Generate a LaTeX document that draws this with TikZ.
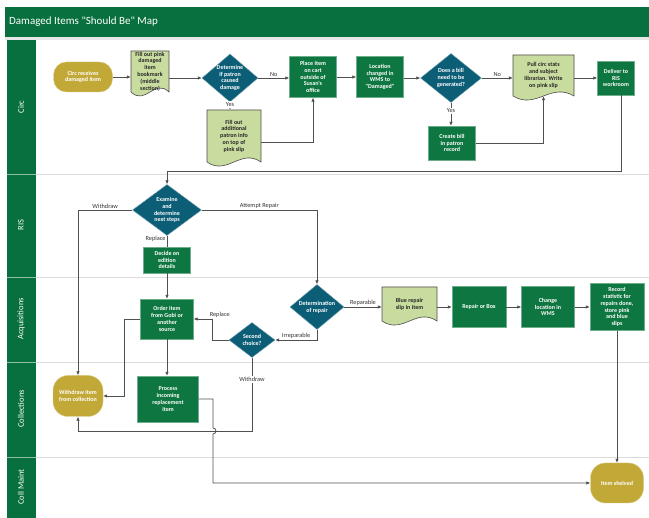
\documentclass[tikz,border=0pt]{standalone}
\usepackage{fontspec}
\setmainfont{Carlito}
\newfontfamily\cfont{Carlito}
\usetikzlibrary{arrows.meta,shapes.geometric,calc}
\definecolor{titlegreen}{RGB}{8,112,62}
\definecolor{boxgreen}{RGB}{14,118,64}
\definecolor{diateal}{RGB}{12,94,118}
\definecolor{goldfill}{RGB}{194,168,55}
\definecolor{docgreen}{RGB}{201,220,160}
\definecolor{lanegray}{RGB}{220,220,220}
\definecolor{linegray}{RGB}{80,80,80}
\newcommand\myNodeFont{\cfont\fontsize{6}{6.8}\selectfont\bfseries}
\newcommand\myLblFont{\cfont\fontsize{6.3}{7}\selectfont}
\newcommand\myLaneFont{\cfont\fontsize{8.5}{10}\selectfont}
\newcommand\docshape[4]{%
  \pgfmathsetmacro\dxa{#1+0.62*(#3-#1)}%
  \pgfmathsetmacro\dxb{#1+0.38*(#3-#1)}%
  \filldraw[docsty] (#1,#2) -- (#3,#2) -- (#3,#4) .. controls (\dxa,#4-14) and (\dxb,#4+14) .. (#1,#4) -- cycle;}
\begin{document}
\begin{tikzpicture}[x=1pt,y=-1pt,
  rbox/.style={rectangle, fill=boxgreen, draw=boxgreen!60!white, line width=0.4pt, text=white, font=\myNodeFont, align=center, inner sep=0pt},
  gbox/.style={rectangle, rounded corners=13pt, fill=goldfill, draw=goldfill!60!white, line width=0.4pt, text=white, font=\myNodeFont, align=center, inner sep=0pt},
  dia/.style={diamond, fill=diateal, draw=diateal!60!white, line width=0.4pt, inner sep=0pt},
  diatxt/.style={text=white, font=\myNodeFont, align=center, inner sep=0pt},
  dtxt/.style={text=black!85, font=\myNodeFont, align=center, inner sep=0pt},
  docsty/.style={fill=docgreen, draw=black!70, line width=0.6pt},
  lbl/.style={font=\myLblFont, text=black!80, inner sep=1pt},
  arr/.style={draw=linegray, line width=0.8pt, -{Latex[length=4pt,width=3.6pt]}},
  ln/.style={draw=linegray, line width=0.8pt},
  lanelbl/.style={text=white, font=\myLaneFont, rotate=90}]
\useasboundingbox (0,0) rectangle (649,518);
\fill[white] (0,0) rectangle (649,518);
% title
\fill[titlegreen] (5,7) rectangle (649,37);
\node[anchor=west, text=white, font=\cfont\fontsize{11}{13}\selectfont, inner sep=0pt] (title) at (9,22) {Damaged Items "Should Be" Map};
\fill[lanegray!70] (5,37) rectangle (649,40);
% lanes
\fill[titlegreen] (7,40) rectangle (36,518);
\foreach \yy in {174,277,362,457}{
  \draw[white!55!titlegreen, line width=0.6pt] (7,\yy) -- (36,\yy);
  \draw[lanegray, line width=0.7pt] (36,\yy) -- (649,\yy);
}
\node[lanelbl] (lcirc) at (21,107) {Circ};
\node[lanelbl] (lris) at (21,225) {RIS};
\node[lanelbl] (lacq) at (21,319) {Acquisitions};
\node[lanelbl] (lcoll) at (21,409) {Collections};
\node[lanelbl] (lmaint) at (21,487) {Coll Maint};

% Circ lane
\node[gbox, minimum width=59pt, minimum height=30pt] (start) at (83,77) {Circ receives\\damaged item};
\docshape{131}{51}{169}{92}
\node[dtxt, minimum width=38pt, minimum height=41pt] (fillpink) at (150,71.5) {Fill out pink\\damaged\\item\\bookmark\\(middle\\section)};
\node[dia, minimum width=56pt, minimum height=48pt] (detpat) at (230,78) {};
\node[diatxt] (detpatt) at (detpat) {Determine\\if patron\\caused\\damage};
\docshape{207}{110}{261}{162}
\node[dtxt, minimum width=54pt, minimum height=52pt] (filladd) at (234,136) {Fill out\\additional\\patron info\\on top of\\pink slip};
\node[rbox, minimum width=47pt, minimum height=41pt] (place) at (313,77) {Place item\\on cart\\outside of\\Susan's\\office};
\node[rbox, minimum width=47pt, minimum height=41pt] (loc) at (380,77) {Location\\changed in\\WMS to\\"Damaged"};
\node[dia, minimum width=61pt, minimum height=49pt] (bill) at (451,78) {};
\node[diatxt] (billt) at (bill) {Does a bill\\need to be\\generated?};
\node[rbox, minimum width=47pt, minimum height=34pt] (create) at (452,143) {Create bill\\in patron\\record};
\docshape{513}{55}{574}{96}
\node[dtxt, minimum width=61pt, minimum height=41pt] (pull) at (543.5,75.5) {Pull circ stats\\and subject\\librarian. Write\\on pink slip};
\node[rbox, minimum width=37pt, minimum height=34pt] (deliver) at (616,78) {Deliver to\\RIS\\workroom};

% RIS lane
\node[dia, minimum width=69pt, minimum height=51pt] (examine) at (167,210) {};
\node[diatxt] (examinet) at (examine) {Examine\\and\\determine\\next steps};
\node[rbox, minimum width=47pt, minimum height=26pt] (decide) at (167,260) {Decide on\\edition\\details};

% Acquisitions lane
\node[rbox, minimum width=53pt, minimum height=40pt] (order) at (167,319) {Order item\\from Gobi or\\another\\source};
\node[dia, minimum width=54pt, minimum height=45pt] (detrep) at (317,307) {};
\node[diatxt] (detrept) at (detrep) {Determination\\of repair};
\docshape{382}{287}{437}{321}
\node[dtxt, minimum width=55pt, minimum height=34pt] (blue) at (409.5,304) {Blue repair\\slip in item};
\node[rbox, minimum width=54pt, minimum height=41pt] (repair) at (479,307) {Repair or Box};
\node[rbox, minimum width=53pt, minimum height=41pt] (change) at (548,307) {Change\\location in\\WMS};
\node[rbox, minimum width=54pt, minimum height=47pt] (record) at (617,307) {Record\\statistic for\\repairs done,\\store pink\\and blue\\slips};
\node[dia, minimum width=46pt, minimum height=35pt] (second) at (252,340) {};
\node[diatxt] (secondt) at (second) {Second\\choice?};

% Collections lane
\node[gbox, rounded corners=15pt, minimum width=50pt, minimum height=41pt] (withdraw) at (78,396) {Withdraw item\\from collection};
\node[rbox, minimum width=61pt, minimum height=46pt] (process) at (168,399) {Process\\incoming\\replacement\\item};

% Coll Maint lane
\node[gbox, rounded corners=15pt, minimum width=53pt, minimum height=40pt] (shelved) at (617,483) {Item shelved};

% connectors
\draw[arr] (start.east) -- (start.east -| fillpink.west);
\draw[arr] (detpat.west -| fillpink.east) -- (detpat.west);
\draw[arr] (detpat.south) -- node[lbl, fill=white, pos=0.3] (lyes1) {Yes} (detpat.south |- filladd.north);
\draw[arr] (detpat.east) -- node[lbl, above] (lno1) {No} (detpat.east -| place.west);
\draw[arr] (place.east) -- (place.east -| loc.west);
\draw[arr] (bill.west -| loc.east) -- (bill.west);
\draw[arr] (bill.south) -- node[lbl, fill=white, pos=0.35] (lyes2) {Yes} (bill.south |- create.north);
\draw[arr] (bill.east) -- node[lbl, above] (lno2) {No} (bill.east -| pull.west);
\draw[arr] (deliver.west -| pull.east) -- (deliver.west);
\draw[arr] ([yshift=-6pt]filladd.east) -| (place.south);
\draw[arr] (create.east) -| (pull.south);
\coordinate (ybr) at (0,171);
\coordinate (c1) at (examine.north |- ybr);
\draw[arr] ([xshift=5pt]deliver.south) |- (c1) -- (examine.north);
\draw[arr] (examine.west) -| node[lbl, above, pos=0.25] (lwd1) {Withdraw} (withdraw.north);
\draw[arr] (examine.east) -| node[lbl, above, pos=0.25] (lrep) {Attempt Repair} (detrep.north);
\draw[ln] (examine.south) -- node[lbl, left, pos=0.3] (lrpl1) {Replace} (decide.north);
\draw[arr] (decide.south) -- (order.north);
\draw[arr] (order.west) -- ++(-16,0) |- (withdraw.east);
\draw[arr] (detrep.east) -- node[lbl, above] (lreparable) {Reparable} (detrep.east -| blue.west);
\draw[arr] (repair.west -| blue.east) -- (repair.west);
\draw[arr] (repair.east) -- (change.west);
\draw[arr] (change.east) -- (record.west);
\draw[arr] (record.south) -- (shelved.north);
\draw[arr] (detrep.south) |- node[lbl, above, pos=0.75] (lirr) {Irreparable} (second.east);
\draw[arr] (second.west) -- ++(-16,0) |- node[lbl, above, pos=0.5, xshift=7pt] (lrpl2) {Replace} (order.east);
\coordinate (yw) at (0,431);
\draw[arr] (second.south) -- node[lbl, fill=white, pos=0.3] (lwd2) {Withdraw} (second.south |- yw) -| (withdraw.south);
\draw[arr] (order.south) -- (order.south |- process.north);
\coordinate (hop) at (213,431);
\draw[arr] (process.east) -| ([yshift=3pt]hop) arc[start angle=-90, end angle=90, radius=3] -- (hop |- shelved.west) -- (shelved.west);
\end{tikzpicture}
\end{document}
